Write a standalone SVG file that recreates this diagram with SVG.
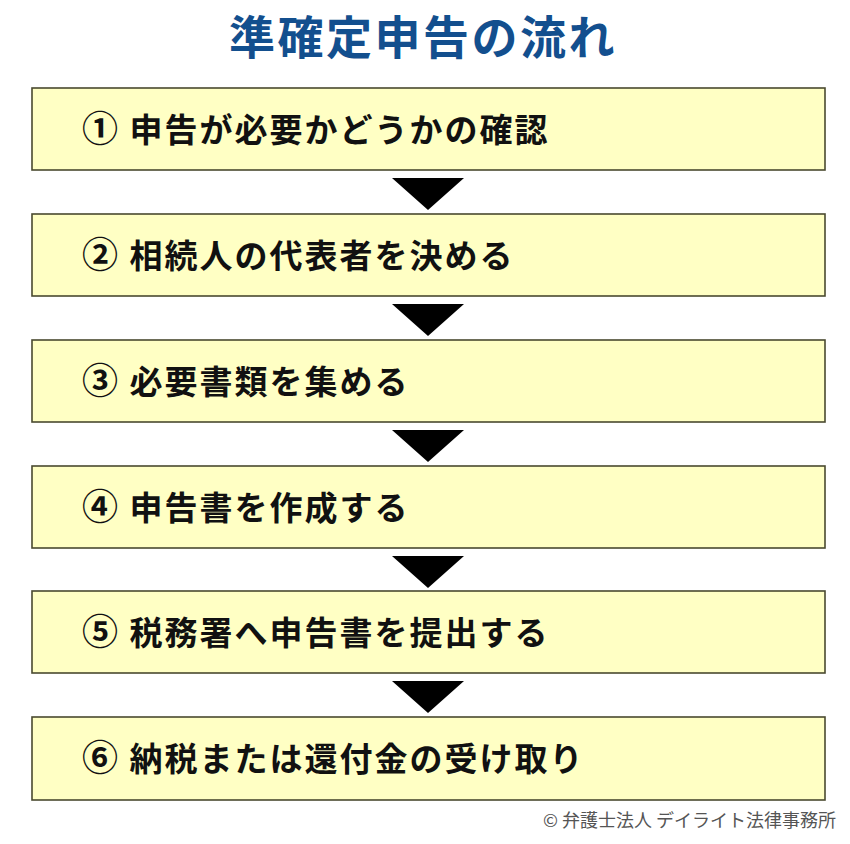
<svg xmlns="http://www.w3.org/2000/svg" width="850" height="844" viewBox="0 0 850 844">
<style>
.box{fill:#ffffc4;stroke:#4a4a30;stroke-width:1.6}
.lbl{font-family:"Noto Sans CJK JP","Noto Sans",sans-serif;font-weight:bold;font-size:33px;fill:#111;letter-spacing:2px}
.num{font-size:36px}
.arr{fill:#000}
.title{font-family:"Noto Sans CJK JP","Noto Sans",sans-serif;font-weight:bold;font-size:46px;fill:#134f8e;letter-spacing:2.5px}
.foot{font-family:"Noto Sans CJK JP","Noto Sans",sans-serif;font-size:18px;fill:#555}
</style>
<rect width="850" height="844" fill="#fff"/>
<text class="title" x="423" y="54" text-anchor="middle">準確定申告の流れ</text>
<g id="step1"><rect class="box" x="32" y="88" width="793" height="82"/><text class="lbl" x="82" y="142"><tspan class="num">①</tspan> 申告が必要かどうかの確認</text></g>
<g id="step2"><rect class="box" x="32" y="214" width="793" height="82"/><text class="lbl" x="82" y="268"><tspan class="num">②</tspan> 相続人の代表者を決める</text></g>
<g id="step3"><rect class="box" x="32" y="340" width="793" height="82"/><text class="lbl" x="82" y="394"><tspan class="num">③</tspan> 必要書類を集める</text></g>
<g id="step4"><rect class="box" x="32" y="466" width="793" height="82"/><text class="lbl" x="82" y="520"><tspan class="num">④</tspan> 申告書を作成する</text></g>
<g id="step5"><rect class="box" x="32" y="591" width="793" height="82"/><text class="lbl" x="82" y="645"><tspan class="num">⑤</tspan> 税務署へ申告書を提出する</text></g>
<g id="step6"><rect class="box" x="32" y="717" width="793" height="83"/><text class="lbl" x="82" y="771"><tspan class="num">⑥</tspan> 納税または還付金の受け取り</text></g>
<g id="connectors">
<polygon class="arr" points="392,178 464,178 428,210"/>
<polygon class="arr" points="392,304 464,304 428,336"/>
<polygon class="arr" points="392,430 464,430 428,462"/>
<polygon class="arr" points="392,556 464,556 428,588"/>
<polygon class="arr" points="392,681 464,681 428,713"/>
</g>
<text class="foot" x="836" y="827" text-anchor="end">© 弁護士法人 デイライト法律事務所</text>
</svg>
